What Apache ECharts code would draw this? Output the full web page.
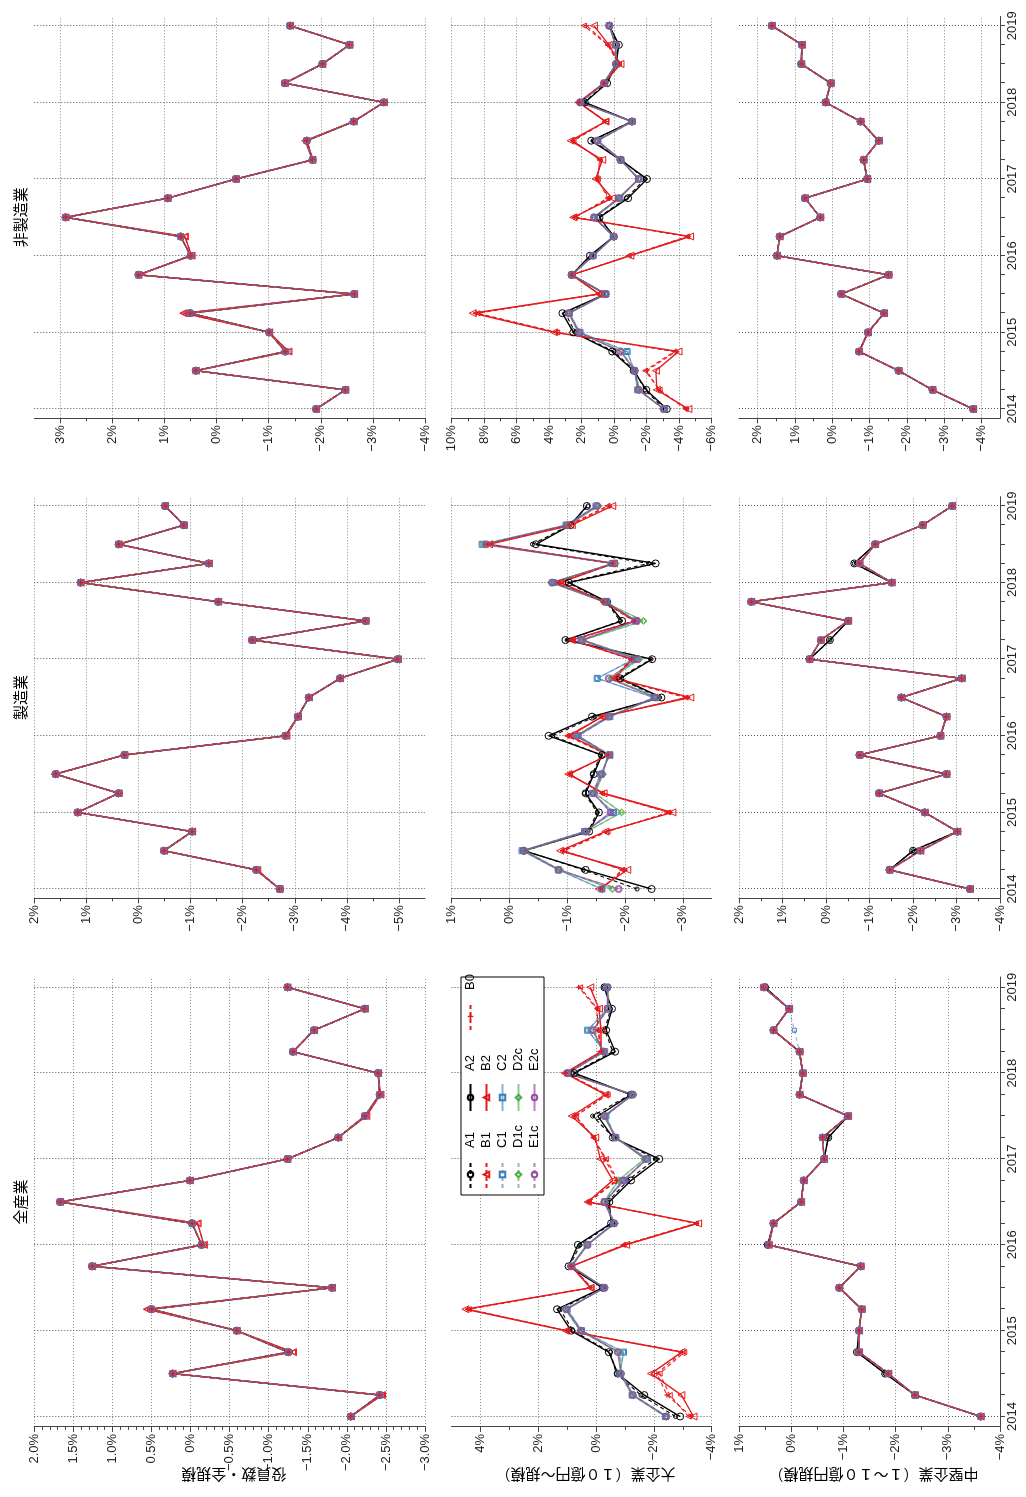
<!DOCTYPE html>
<html><head><meta charset="utf-8">
<script src="https://cdn.jsdelivr.net/npm/echarts@6/dist/echarts.min.js"></script>
<style>
html,body{margin:0;padding:0;width:1026px;height:1497px;overflow:hidden;background:#fff;}
#chart{position:absolute;left:0;top:0;width:1497px;height:1026px;transform-origin:0 0;transform:translate(0px,1497px) rotate(-90deg);}
</style></head><body><div id="chart"></div>
<script>
// ---------- categories ----------
const QUARTERS = [2014,2014.25,2014.5,2014.75,2015,2015.25,2015.5,2015.75,2016,2016.25,2016.5,2016.75,2017,2017.25,2017.5,2017.75,2018,2018.25,2018.5,2018.75,2019];
const YEAR_TICKS = [2014,2015,2016,2017,2018,2019];
const COLUMN_TITLES = ['全産業','製造業','非製造業'];
const ROW_TITLES = ['役員数・全規模','大企業（１０億円～規模）','中堅企業（１～１０億円規模）'];
const SERIES_NAMES = ['A1','A2','B1','B2','C1','C2','D1c','D2c','E1c','E2c','B0'];

// ---------- value-axis tick labels ----------
const TICKS_EXEC_ALL = [-3,-2.5,-2,-1.5,-1,-0.5,0,0.5,1,1.5,2];
const TICKS_EXEC_MFG = [-5,-4,-3,-2,-1,0,1,2];
const TICKS_EXEC_NON = [-4,-3,-2,-1,0,1,2,3];
const TICKS_LARGE_ALL = [-4,-2,0,2,4];
const TICKS_LARGE_MFG = [-3,-2,-1,0,1];
const TICKS_LARGE_NON = [-6,-4,-2,0,2,4,6,8,10];
const TICKS_MID_ALL = [-4,-3,-2,-1,0,1];
const TICKS_MID_MFG = [-4,-3,-2,-1,0,1,2];
const TICKS_MID_NON = [-4,-3,-2,-1,0,1,2];

// ---------- row 1: 役員数・全規模 ----------
const exec_all   = [-2.05,-2.42,0.23,-1.25,-0.59,0.50,-1.81,1.26,-0.14,-0.02,1.67,0.01,-1.24,-1.89,-2.23,-2.42,-2.40,-1.31,-1.58,-2.23,-1.24];
const exec_all_B = [-2.05,-2.45,0.23,-1.31,-0.59,0.56,-1.81,1.26,-0.17,-0.09,1.67,0.01,-1.24,-1.89,-2.25,-2.43,-2.40,-1.31,-1.58,-2.23,-1.24];
const exec_mfg   = [-2.71,-2.26,-0.49,-1.03,1.17,0.38,1.59,0.27,-2.82,-3.06,-3.27,-3.87,-4.98,-2.18,-4.36,-1.53,1.11,-1.35,0.38,-0.87,-0.51];
const exec_mfg_B = [-2.71,-2.28,-0.49,-1.03,1.17,0.38,1.61,0.27,-2.84,-3.06,-3.27,-3.87,-4.98,-2.18,-4.36,-1.53,1.11,-1.35,0.38,-0.87,-0.51];
const exec_non   = [-1.91,-2.47,0.40,-1.32,-1.01,0.51,-2.64,1.50,0.50,0.69,2.90,0.94,-0.37,-1.84,-1.73,-2.63,-3.21,-1.31,-2.03,-2.55,-1.41];
const exec_non_B = [-1.91,-2.47,0.40,-1.38,-1.01,0.64,-2.64,1.50,0.48,0.61,2.90,0.94,-0.37,-1.84,-1.70,-2.63,-3.21,-1.31,-2.03,-2.55,-1.41];

// ---------- row 2: 大企業 ----------
const large_all_E  = [-2.43,-1.27,-0.86,-0.75,0.52,1.04,-0.29,0.86,0.29,-0.63,-0.29,-0.98,-1.73,-0.66,-0.29,-1.27,1.00,-0.26,0.10,-0.40,-0.40];
const large_all_C  = [-2.40,-1.25,-0.82,-0.95,0.50,1.00,-0.27,0.84,0.31,-0.60,-0.30,-0.92,-1.78,-0.68,-0.34,-1.24,0.98,-0.30,0.29,-0.40,-0.38];
const large_all_D  = [-2.45,-1.28,-0.88,-0.80,0.55,1.06,-0.31,0.88,0.31,-0.66,-0.27,-0.77,-1.67,-0.70,-0.27,-1.30,1.02,-0.24,0.12,-0.42,-0.42];
const large_all_A2 = [-2.91,-1.67,-0.75,-0.44,0.86,1.35,-0.23,0.95,0.63,-0.52,-0.46,-1.21,-2.19,-0.58,-0.06,-1.21,0.75,-0.66,-0.35,-0.55,-0.29];
const large_all_A1 = [-2.75,-1.55,-0.70,-0.50,0.80,1.25,-0.25,0.92,0.55,-0.55,-0.40,-1.10,-2.05,-0.60,0.12,-1.18,0.80,-0.58,-0.30,-0.50,-0.28];
const large_all_B2 = [-3.37,-2.95,-1.90,-2.96,1.05,4.52,0.20,0.86,-1.04,-3.53,0.29,-0.58,-0.15,0.03,0.84,-0.32,1.09,-0.17,-0.17,-0.10,0.20];
const large_all_B1 = [-3.20,-2.55,-2.20,-3.05,1.00,4.40,0.15,0.84,-0.95,-3.45,0.25,-0.75,-0.35,0.10,0.70,-0.40,1.05,-0.20,-0.05,-0.05,0.55];
const large_all_B0 = [-3.30,-2.45,-2.10,-2.98,1.02,4.45,0.18,0.85,-0.98,-3.48,0.27,-0.70,-0.30,0.08,0.72,-0.38,1.06,-0.18,-0.08,-0.02,0.60];

const large_mfg_E  = [-1.89,-0.85,-0.25,-1.32,-1.75,-1.46,-1.60,-1.72,-1.17,-1.72,-2.53,-1.72,-2.21,-1.26,-2.20,-1.65,-0.74,-1.81,0.40,-1.00,-1.52];
const large_mfg_C  = [-1.60,-0.85,-0.22,-1.30,-1.80,-1.44,-1.58,-1.74,-1.19,-1.74,-2.50,-1.52,-2.15,-1.24,-2.18,-1.68,-0.76,-1.78,0.47,-0.98,-1.50];
const large_mfg_D  = [-1.78,-0.88,-0.27,-1.34,-1.94,-1.48,-1.62,-1.70,-1.15,-1.70,-2.56,-1.76,-2.25,-1.28,-2.32,-1.63,-0.72,-1.84,0.43,-1.02,-1.54];
const large_mfg_A2 = [-2.46,-1.32,-0.25,-1.38,-1.55,-1.32,-1.46,-1.60,-0.68,-1.43,-2.63,-1.92,-2.47,-0.97,-1.95,-1.69,-1.03,-2.53,-0.46,-1.06,-1.34];
const large_mfg_A1 = [-2.21,-1.28,-0.27,-1.36,-1.52,-1.30,-1.44,-1.58,-0.75,-1.48,-2.60,-1.88,-2.45,-1.00,-1.92,-1.67,-1.00,-2.41,-0.40,-1.04,-1.36];
const large_mfg_B2 = [-1.55,-2.04,-0.88,-1.66,-2.82,-1.63,-1.02,-1.72,-1.05,-1.60,-3.13,-1.83,-2.12,-1.08,-2.18,-1.65,-0.88,-1.81,0.35,-1.08,-1.78];
const large_mfg_B1 = [-1.60,-1.95,-0.95,-1.70,-2.75,-1.60,-1.05,-1.70,-1.00,-1.62,-3.05,-1.80,-2.10,-1.10,-2.15,-1.62,-0.85,-1.78,0.40,-1.02,-1.70];
const large_mfg_B0 = [-1.58,-1.98,-0.92,-1.68,-2.78,-1.61,-1.04,-1.71,-1.02,-1.61,-3.08,-1.81,-2.11,-1.09,-2.16,-1.63,-0.86,-1.79,0.38,-1.04,-1.72];

const large_non_E  = [-3.04,-1.51,-1.27,-0.39,2.16,2.78,0.53,2.61,1.29,0.02,1.24,-0.29,-1.51,-0.39,1.04,-1.10,2.10,0.63,-0.12,-0.08,0.29];
const large_non_C  = [-3.10,-1.45,-1.25,-0.80,2.10,2.75,0.50,2.60,1.30,0.05,1.20,-0.35,-1.50,-0.42,1.00,-1.12,2.05,0.60,-0.15,-0.10,0.30];
const large_non_D  = [-3.02,-1.55,-1.30,-0.45,2.20,2.80,0.55,2.63,1.27,0.00,1.26,-0.25,-1.53,-0.37,1.06,-1.08,2.12,0.65,-0.10,-0.06,0.27];
const large_non_A2 = [-3.24,-1.98,-1.20,0.12,2.51,3.18,0.53,2.61,1.49,0.02,0.90,-0.86,-2.02,-0.39,1.41,-1.10,1.80,0.43,-0.12,-0.29,0.29];
const large_non_A1 = [-3.10,-1.90,-1.25,0.00,2.40,3.00,0.50,2.58,1.40,0.00,0.95,-0.75,-1.90,-0.45,1.30,-1.05,1.85,0.50,-0.15,-0.22,0.30];
const large_non_B2 = [-4.57,-2.63,-2.57,-3.96,3.69,8.69,0.94,2.61,-1.00,-4.67,2.51,0.12,1.14,0.73,2.67,0.53,2.20,0.63,-0.39,0.33,1.24];
const large_non_B1 = [-4.40,-2.80,-1.90,-3.70,3.50,8.40,0.90,2.58,-0.90,-4.50,2.40,0.40,1.00,0.90,2.50,0.50,2.15,0.60,-0.30,0.40,1.86];
const large_non_B0 = [-4.45,-2.75,-2.00,-3.80,3.55,8.50,0.92,2.59,-0.95,-4.55,2.45,0.30,1.05,0.85,2.55,0.52,2.17,0.61,-0.33,0.38,1.70];

// ---------- row 3: 中堅企業 ----------
const mid_all    = [-3.63,-2.37,-1.86,-1.30,-1.30,-1.35,-0.92,-1.33,0.43,0.34,-0.19,-0.24,-0.63,-0.60,-1.09,-0.16,-0.22,-0.16,0.34,0.04,0.53];
const mid_all_A  = [-3.63,-2.37,-1.80,-1.26,-1.30,-1.35,-0.92,-1.33,0.45,0.34,-0.19,-0.24,-0.63,-0.71,-1.09,-0.16,-0.22,-0.16,0.34,0.04,0.50];
const mid_all_C1 = [-3.63,-2.37,-1.86,-1.30,-1.30,-1.35,-0.92,-1.33,0.43,0.34,-0.19,-0.24,-0.63,-0.60,-1.09,-0.16,-0.22,-0.16,-0.06,0.04,0.53];
const mid_mfg    = [-3.31,-1.46,-2.17,-3.02,-2.27,-1.22,-2.77,-0.77,-2.63,-2.77,-1.73,-3.12,0.38,0.12,-0.51,1.72,-1.51,-0.77,-1.13,-2.22,-2.90];
const mid_mfg_A  = [-3.31,-1.46,-2.00,-3.02,-2.27,-1.22,-2.77,-0.77,-2.63,-2.77,-1.73,-3.12,0.38,-0.09,-0.51,1.72,-1.51,-0.65,-1.13,-2.22,-2.90];
const mid_non    = [-3.78,-2.69,-1.78,-0.72,-0.96,-1.39,-0.24,-1.51,1.48,1.41,0.32,0.73,-0.94,-0.84,-1.25,-0.76,0.18,0.04,0.83,0.81,1.62];

// ---------- panel -> series arrays ----------
const PANEL_SERIES = [
  {A1:exec_all,A2:exec_all,B1:exec_all_B,B2:exec_all_B,C1:exec_all,C2:exec_all,D1c:exec_all,D2c:exec_all,E1c:exec_all,E2c:exec_all,B0:exec_all},
  {A1:exec_mfg,A2:exec_mfg,B1:exec_mfg_B,B2:exec_mfg_B,C1:exec_mfg,C2:exec_mfg,D1c:exec_mfg,D2c:exec_mfg,E1c:exec_mfg,E2c:exec_mfg,B0:exec_mfg},
  {A1:exec_non,A2:exec_non,B1:exec_non_B,B2:exec_non_B,C1:exec_non,C2:exec_non,D1c:exec_non,D2c:exec_non,E1c:exec_non,E2c:exec_non,B0:exec_non},
  {A1:large_all_A1,A2:large_all_A2,B1:large_all_B1,B2:large_all_B2,C1:large_all_C,C2:large_all_C,D1c:large_all_D,D2c:large_all_D,E1c:large_all_E,E2c:large_all_E,B0:large_all_B0},
  {A1:large_mfg_A1,A2:large_mfg_A2,B1:large_mfg_B1,B2:large_mfg_B2,C1:large_mfg_C,C2:large_mfg_C,D1c:large_mfg_D,D2c:large_mfg_D,E1c:large_mfg_E,E2c:large_mfg_E,B0:large_mfg_B0},
  {A1:large_non_A1,A2:large_non_A2,B1:large_non_B1,B2:large_non_B2,C1:large_non_C,C2:large_non_C,D1c:large_non_D,D2c:large_non_D,E1c:large_non_E,E2c:large_non_E,B0:large_non_B0},
  {A1:mid_all_A,A2:mid_all_A,B1:mid_all,B2:mid_all,C1:mid_all_C1,C2:mid_all,D1c:mid_all,D2c:mid_all,E1c:mid_all,E2c:mid_all,B0:mid_all},
  {A1:mid_mfg_A,A2:mid_mfg_A,B1:mid_mfg,B2:mid_mfg,C1:mid_mfg,C2:mid_mfg,D1c:mid_mfg,D2c:mid_mfg,E1c:mid_mfg,E2c:mid_mfg,B0:mid_mfg},
  {A1:mid_non,A2:mid_non,B1:mid_non,B2:mid_non,C1:mid_non,C2:mid_non,D1c:mid_non,D2c:mid_non,E1c:mid_non,E2c:mid_non,B0:mid_non}
];

// ---------- layout / styling ----------
const COL_X = [[70.1,520.1],[598.7,1000.3],[1078.7,1480.6]];
const ROW_Y = [[34.3,425],[451.5,711.7],[739,1000]];
const X_RANGE = [2013.879, 2019.121];
const AXES = [
  {min:-3,max:2,step:0.5,minor:5,dec:1,ticks:TICKS_EXEC_ALL},
  {min:-5.5,max:2,step:1,minor:2,dec:0,ticks:TICKS_EXEC_MFG},
  {min:-4,max:3.5,step:1,minor:2,dec:0,ticks:TICKS_EXEC_NON},
  {min:-4,max:5,step:2,minor:2,dec:0,ticks:TICKS_LARGE_ALL},
  {min:-3.5,max:1,step:1,minor:2,dec:0,ticks:TICKS_LARGE_MFG},
  {min:-6,max:10,step:2,minor:2,dec:0,ticks:TICKS_LARGE_NON},
  {min:-4,max:1,step:1,minor:2,dec:0,ticks:TICKS_MID_ALL},
  {min:-4,max:2,step:1,minor:2,dec:0,ticks:TICKS_MID_MFG},
  {min:-4.5,max:2.5,step:1,minor:2,dec:0,ticks:TICKS_MID_NON}
];
const STYLE = {
  A1:{color:'#000000',dash:true,symbol:'circle',size:4,op:1},
  A2:{color:'#000000',dash:false,symbol:'circle',size:7,op:1},
  B1:{color:'#E41A1C',dash:true,symbol:'triangle',size:5,op:1},
  B2:{color:'#E41A1C',dash:false,symbol:'triangle',size:7,op:1},
  C1:{color:'#377EB8',dash:true,symbol:'rect',size:4,op:0.6},
  C2:{color:'#377EB8',dash:false,symbol:'rect',size:6,op:0.6},
  D1c:{color:'#4DAF4A',dash:true,symbol:'diamond',size:5,op:0.65},
  D2c:{color:'#4DAF4A',dash:false,symbol:'diamond',size:7,op:0.65},
  E1c:{color:'#984EA3',dash:true,symbol:'circle',size:5,op:0.7},
  E2c:{color:'#984EA3',dash:false,symbol:'circle',size:7,op:0.7},
  B0:{color:'#E41A1C',dash:true,symbol:'path://M-0.25,-1h0.5v0.75h0.75v0.5h-0.75v0.75h-0.5v-0.75h-0.75v-0.5h0.75z',size:5,op:1,filled:true}
};
const LABEL_FONT = 'Liberation Sans';
const JP_FONT = '"Noto Sans CJK JP"';

function fmtPct(v, dec){
  if (v === 0) return '0%';
  return (v < 0 ? '\u2212' : '') + Math.abs(v).toFixed(dec) + '%';
}

const grids = [], xAxes = [], yAxes = [], series = [];
for (let p = 0; p < 9; p++) {
  const r = Math.floor(p / 3), c = p % 3;
  const ax = AXES[p];
  grids.push({left: COL_X[c][0], width: COL_X[c][1]-COL_X[c][0], top: ROW_Y[r][0], height: ROW_Y[r][1]-ROW_Y[r][0], containLabel:false});
  const bottomRow = (r === 2);
  xAxes.push({
    type:'value', gridIndex:p, min:X_RANGE[0], max:X_RANGE[1], minInterval:1, maxInterval:1, splitNumber:5,
    axisLine:{show:bottomRow, onZero:false, lineStyle:{color:'#444', width:1}},
    axisTick:{show:bottomRow, length:5, customValues:YEAR_TICKS, lineStyle:{color:'#444'}},
    minorTick:{show:bottomRow, splitNumber:4, length:5, lineStyle:{color:'#444'}},
    axisLabel:{show:bottomRow, customValues:YEAR_TICKS, margin:6, fontSize:13, fontFamily:LABEL_FONT, color:'#222', formatter:v=>String(Math.round(v))},
    splitLine:{show:true, lineStyle:{type:[1,2], color:'#555', width:1}},
    minorSplitLine:{show:false}
  });
  yAxes.push({
    type:'value', gridIndex:p, min:ax.min, max:ax.max, minInterval:ax.step, maxInterval:ax.step,
    axisLine:{show:true, onZero:false, lineStyle:{color:'#444', width:1}},
    axisTick:{show:true, length:5, customValues:ax.ticks, lineStyle:{color:'#444'}},
    minorTick:{show:true, splitNumber:ax.minor, length:3, lineStyle:{color:'#444'}},
    axisLabel:{show:true, customValues:ax.ticks, margin:7, fontSize:13, fontFamily:LABEL_FONT, color:'#222', formatter:v=>fmtPct(v, ax.dec)},
    splitLine:{show:true, lineStyle:{type:[1,2], color:'#888', width:1}}
  });
  const ps = PANEL_SERIES[p];
  SERIES_NAMES.forEach(name => {
    const st = STYLE[name];
    const vals = ps[name];
    series.push({
      type:'line', name:name, xAxisIndex:p, yAxisIndex:p,
      data: QUARTERS.map((q,i)=>[q, vals[i]]),
      symbol: st.symbol, symbolSize: st.size, showSymbol:true,
      lineStyle:{color:st.color, width: st.dash ? 1.1 : 1.4, type: st.dash ? [4,3] : 'solid', opacity: st.op},
      itemStyle:{color: st.filled ? st.color : 'rgba(255,255,255,0)', borderColor: st.color, borderWidth: st.filled ? 0 : 1},
      emphasis:{disabled:true},
      z: 2
    });
  });
}

const legendBase = {orient:'vertical', itemWidth:27, itemHeight:7, itemGap:3, padding:0, selectedMode:false, z:8,
  textStyle:{fontSize:13, fontFamily:LABEL_FONT, color:'#000', padding:[0,0,0,8]}};

const graphics = [];
COLUMN_TITLES.forEach((t,c)=>{
  graphics.push({type:'text', x:(COL_X[c][0]+COL_X[c][1])/2, y:20, z:10,
    style:{text:t, fontSize:15, fontFamily:JP_FONT, fill:'#000', align:'center', verticalAlign:'middle', textAlign:'center', textVerticalAlign:'middle'}});
});
ROW_TITLES.forEach((t,r)=>{
  graphics.push({type:'text', x:22, y:(ROW_Y[r][0]+ROW_Y[r][1])/2 + 4, rotation:Math.PI/2, z:10,
    style:{text:t, fontSize:15, fontFamily:JP_FONT, fill:'#000', align:'center', verticalAlign:'middle', textAlign:'center', textVerticalAlign:'middle'}});
});
graphics.push({type:'rect', z:6, shape:{x:302, y:461, width:218, height:83}, style:{fill:'#fff', stroke:'#000', lineWidth:1}});

const chart = echarts.init(document.getElementById('chart'), null, {renderer:'canvas'});
chart.setOption({
  animation:false,
  backgroundColor:'#fff',
  grid:grids, xAxis:xAxes, yAxis:yAxes, series:series,
  legend:[
    Object.assign({}, legendBase, {left:308, top:464, data:['A1','B1','C1','D1c','E1c']}),
    Object.assign({}, legendBase, {left:385, top:464, data:['A2','B2','C2','D2c','E2c']}),
    Object.assign({}, legendBase, {left:466, top:464, data:['B0']})
  ],
  graphic:{elements:graphics}
});
</script>
</body></html>
